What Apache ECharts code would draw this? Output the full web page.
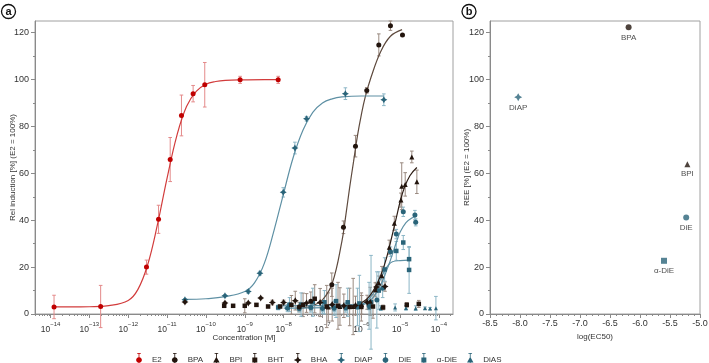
<!DOCTYPE html>
<html><head><meta charset="utf-8">
<script src="https://cdn.jsdelivr.net/npm/echarts@6/dist/echarts.min.js"></script>
<style>html,body{margin:0;padding:0;background:#fff}#c{width:709px;height:363px}</style>
</head><body><div id="c"></div>
<script>
// ---------- Panel a : tick labels ----------
const xTickExps = [-14, -13, -12, -11, -10, -9, -8, -7, -6, -5, -4];
const yTicksA = [0, 20, 40, 60, 80, 100, 120];
const yMinorA = [10, 30, 50, 70, 90, 110];
const bTicksX = [-8.5, -8.0, -7.5, -7.0, -6.5, -6.0, -5.5, -5.0];

// ---------- Panel a : data (x = log10 concentration [M], y = %, e = error) ----------
const names = ['E2', 'BPA', 'BPI', 'BHT', 'BHA', 'DiAP', 'DiE', 'α-DiE', 'DiAS'];

const e2X = [-13.91, -12.71, -11.53, -11.22, -10.92, -10.63, -10.33, -10.03, -9.12, -8.14];
const e2Y = [3.0, 3.2, 20.0, 40.4, 65.9, 84.7, 94.0, 97.8, 99.9, 99.9];
const e2E = [5.0, 9.0, 3.0, 6.0, 9.4, 8.7, 3.5, 9.5, 1.5, 1.5];
const e2CurveX = [-13.91, -13.5, -13.0, -12.5, -12.0, -11.75, -11.5, -11.25, -11.0, -10.75, -10.5, -10.25, -10.0, -9.75, -9.5, -9.0, -8.5, -8.14];
const e2CurveY = [3.0, 3.0, 3.1, 3.6, 5.8, 10.5, 21.0, 38.0, 58.0, 76.0, 88.5, 95.0, 98.0, 99.2, 99.7, 99.9, 100, 100];

const bpaX = [-7.6, -7.30, -6.76, -6.46, -6.15, -5.86, -5.55, -5.25, -4.94];
const bpaY = [3.0, 5.4, 12.5, 37.0, 71.6, 95.4, 114.8, 123.0, 119.0];
const bpaE = [2.0, 4.0, 5.0, 2.7, 4.6, 1.2, 4.7, 2.0, 0];
const bpaCurveX = [-7.6, -7.5, -7.25, -7.0, -6.75, -6.5, -6.4, -6.3, -6.2, -6.1, -6.0, -5.9, -5.75, -5.5, -5.25, -4.95];
const bpaCurveY = [2.4, 2.6, 3.5, 6.0, 13.0, 31.0, 42.0, 54.0, 65.0, 76.0, 85.0, 92.5, 101.0, 112.0, 118.5, 121.3];

const bpiX = [-6.85, -6.55, -6.21, -5.99, -5.77, -5.64, -5.55, -5.47, -5.28, -5.15, -4.98, -4.96, -4.87, -4.70, -4.57];
const bpiY = [3.0, 3.2, 3.2, 3.9, 5.4, 10.3, 13.2, 16.3, 28.5, 38.7, 48.6, 54.5, 55.3, 67.0, 56.4];
const bpiE = [6, 8, 12, 4, 6, 3, 3, 4, 3, 3, 3, 10, 5, 2.5, 5];
const bpiCurveX = [-7.0, -6.5, -6.0, -5.75, -5.5, -5.35, -5.25, -5.1, -5.0, -4.9, -4.75, -4.57];
const bpiCurveY = [2.5, 3.0, 4.8, 8.5, 16.5, 24.0, 30.5, 41.0, 48.0, 53.5, 59.0, 62.5];

const bhtX = [-9.53, -9.30, -9.00, -8.70, -8.40, -8.09, -7.80, -7.50, -7.20, -6.89, -6.60, -6.30, -6.00, -5.70, -5.44, -4.83, -4.52];
const bhtY = [3.5, 3.5, 3.5, 3.9, 3.2, 3.2, 3.9, 3.9, 6.5, 3.2, 3.5, 3.0, 3.0, 3.2, 2.8, 3.9, 4.3];
const bhtE = [0.5, 0.5, 3.0, 0.5, 0.5, 0.5, 4, 5, 6, 9, 10, 8, 6, 5, 1, 1, 1.5];

const bhaX = [-10.54, -9.51, -8.91, -8.59, -8.29, -8.00, -7.70, -7.41, -7.06, -6.75, -6.45, -6.15, -5.85, -5.61, -5.39];
const bhaY = [5.1, 4.7, 4.7, 6.8, 4.9, 4.9, 5.7, 4.7, 4.9, 4.0, 3.5, 3.6, 5.0, 11.5, 11.7];
const bhaE = [0.5, 0.5, 0.5, 0.5, 1, 1, 4, 4, 6, 7, 5, 4, 3, 2, 2];

const diapX = [-10.54, -9.51, -8.91, -8.61, -8.01, -7.71, -7.41, -6.41, -5.42];
const diapY = [6.1, 7.8, 9.6, 17.4, 51.9, 70.8, 83.3, 94.0, 91.4];
const diapE = [0.5, 0.5, 0.8, 0.8, 2.0, 2.5, 1.0, 2.5, 2.5];
const diapCurveX = [-10.54, -10.0, -9.5, -9.0, -8.75, -8.5, -8.25, -8.0, -7.75, -7.5, -7.25, -7.0, -6.75, -6.5, -6.0, -5.42];
const diapCurveY = [6.2, 6.5, 7.4, 9.6, 13.3, 21.5, 35.5, 51.5, 67.0, 78.5, 86.0, 90.0, 91.8, 92.6, 93.0, 93.0];

const dieX = [-7.9, -7.6, -7.3, -7.0, -6.7, -6.4, -6.1, -5.8, -5.6, -5.45, -5.25, -5.10, -4.92, -4.62, -4.60];
const dieY = [2.5, 2.3, 2.8, 2.3, 2.5, 2.8, 3.0, 3.5, 6.0, 11.0, 26.6, 34.1, 43.6, 42.2, 39.1];
const dieE = [1.5, 1.5, 2, 2, 3, 2, 8, 10, 12, 4, 2, 2, 2, 2, 1.5];
const dieCurveX = [-8.0, -7.0, -6.5, -6.0, -5.75, -5.5, -5.35, -5.25, -5.1, -5.0, -4.85, -4.7, -4.6];
const dieCurveY = [2.5, 2.7, 3.0, 3.8, 6.0, 12.5, 18.5, 23.0, 30.5, 35.0, 39.0, 41.0, 41.5];

const adieX = [-8.14, -7.85, -7.55, -7.25, -6.95, -6.65, -6.35, -6.05, -5.75, -5.55, -5.40, -5.10, -4.92, -4.77, -4.77];
const adieY = [2.8, 4.0, 4.0, 5.0, 5.0, 5.5, 5.0, 4.5, 5.0, 10.0, 19.0, 26.9, 30.5, 23.4, 18.8];
const adieE = [1, 3, 5, 6, 5, 7, 6, 12, 20, 8, 5, 4, 3, 5, 10];
const adieCurveX = [-8.1, -7.0, -6.5, -6.0, -5.75, -5.6, -5.5, -5.4, -5.3, -5.2, -5.0, -4.77];
const adieCurveY = [3.5, 3.6, 3.8, 4.2, 7.5, 11.5, 15.0, 18.5, 21.0, 22.3, 22.8, 23.0];

const diasX = [-7.6, -7.3, -7.0, -6.7, -6.4, -6.1, -5.8, -5.5, -5.13, -4.85, -4.6, -4.36, -4.23, -4.08];
const diasY = [2.5, 2.8, 3.0, 2.5, 2.5, 3.0, 2.8, 2.5, 2.8, 2.6, 2.5, 2.5, 2.3, 2.5];
const diasE = [1, 1, 2, 1.5, 1, 1, 1, 1, 1.5, 1, 1, 0.5, 0.5, 5];

// ---------- Panel b : log(EC50) vs REE ----------
const bNames = ['BPA', 'DiAP', 'BPI', 'DiE', 'α-DiE'];
const bX = [-6.19, -8.03, -5.21, -5.23, -5.60];
const bY = [122.3, 92.5, 63.9, 41.2, 22.7];

// ---------- styles ----------
const FONT = '"Liberation Sans", Arial, sans-serif';
const RED = '#c00000', RED_L = '#d23c3c', RED_E = '#e48a8a';
const DK = '#22140d', DK_E = '#9a8a80';
const TEAL = '#2a6479', TEAL_L = '#5e90a4', TEAL_E = '#8cb6c6';
const STAR = 'path://M5,0 L6.8,3.2 L10,5 L6.8,6.8 L5,10 L3.2,6.8 L0,5 L3.2,3.2 Z';

const spec = {
  'E2':   {x: e2X, y: e2Y, e: e2E, cx: e2CurveX, cy: e2CurveY, sym: 'circle', size: 5, c: RED, lc: RED_L, ec: RED_E},
  'BPA':  {x: bpaX, y: bpaY, e: bpaE, cx: bpaCurveX, cy: bpaCurveY, sym: 'circle', size: 5, c: DK, lc: '#5e4a3e', ec: DK_E},
  'BPI':  {x: bpiX, y: bpiY, e: bpiE, cx: bpiCurveX, cy: bpiCurveY, sym: 'triangle', size: 5, c: DK, lc: '#2e1e16', ec: DK_E},
  'BHT':  {x: bhtX, y: bhtY, e: bhtE, sym: 'rect', size: 4.5, c: DK, ec: DK_E},
  'BHA':  {x: bhaX, y: bhaY, e: bhaE, sym: STAR, size: 7, c: DK, ec: DK_E},
  'DiAP': {x: diapX, y: diapY, e: diapE, cx: diapCurveX, cy: diapCurveY, sym: STAR, size: 7, c: TEAL, lc: TEAL_L, ec: TEAL_E},
  'DiE':  {x: dieX, y: dieY, e: dieE, cx: dieCurveX, cy: dieCurveY, sym: 'circle', size: 5, c: TEAL, lc: TEAL_L, ec: TEAL_E},
  'α-DiE':{x: adieX, y: adieY, e: adieE, cx: adieCurveX, cy: adieCurveY, sym: 'rect', size: 4.5, c: TEAL, lc: TEAL_L, ec: TEAL_E},
  'DiAS': {x: diasX, y: diasY, e: diasE, sym: 'triangle', size: 4, c: TEAL, ec: TEAL_E}
};

function zip(a, b) { return a.map((v, i) => [v, b[i]]); }

function errRender(color) {
  return function (params, api) {
    const x = api.value(0), lo = api.value(1), hi = api.value(2);
    const p1 = api.coord([x, hi]), p2 = api.coord([x, lo]);
    const w = 1.8, st = {stroke: color, lineWidth: 1};
    return {type: 'group', children: [
      {type: 'line', shape: {x1: p1[0], y1: p1[1], x2: p2[0], y2: p2[1]}, style: st},
      {type: 'line', shape: {x1: p1[0] - w, y1: p1[1], x2: p1[0] + w, y2: p1[1]}, style: st},
      {type: 'line', shape: {x1: p2[0] - w, y1: p2[1], x2: p2[0] + w, y2: p2[1]}, style: st}
    ]};
  };
}

const series = [];
names.forEach(n => {
  const s = spec[n];
  const d = [];
  s.x.forEach((x, i) => { if (s.e[i] > 0) d.push([x, s.y[i] - s.e[i], s.y[i] + s.e[i]]); });
  series.push({type: 'custom', name: n + ' err', xAxisIndex: 0, yAxisIndex: 0, renderItem: errRender(s.ec),
    data: d, encode: {x: 0, y: [1, 2]}, silent: true, z: 2});
});
names.forEach(n => {
  const s = spec[n];
  if (!s.cx) return;
  series.push({type: 'line', name: n + ' fit', xAxisIndex: 0, yAxisIndex: 0, data: zip(s.cx, s.cy),
    smooth: 0.4, showSymbol: false, symbol: 'none', lineStyle: {color: s.lc, width: 1.2}, silent: true, z: 3});
});
names.slice().reverse().forEach(n => {
  const s = spec[n];
  series.push({type: 'scatter', name: n, xAxisIndex: 0, yAxisIndex: 0, data: zip(s.x, s.y),
    symbol: s.sym, symbolSize: s.size, itemStyle: {color: s.c, opacity: 1}, z: 5});
});
const bSym = {'BPA': 'circle', 'DiAP': STAR, 'BPI': 'triangle', 'DiE': 'circle', 'α-DiE': 'rect'};
const bCol = {'BPA': DK, 'DiAP': TEAL, 'BPI': DK, 'DiE': TEAL, 'α-DiE': TEAL};
const bSize = {'BPA': 6, 'DiAP': 8, 'BPI': 6, 'DiE': 6, 'α-DiE': 6};
series.push({type: 'scatter', name: 'REE', xAxisIndex: 2, yAxisIndex: 2,
  data: bNames.map((n, i) => ({name: n, value: [bX[i], bY[i]], symbol: bSym[n], symbolSize: bSize[n], itemStyle: {color: bCol[n]}})),
  label: {show: true, position: 'bottom', distance: 3, formatter: p => p.name, fontSize: 8, color: '#222', fontFamily: FONT},
  z: 5});

function icon(shape) {
  const bar = 'M3.6,0 L4.4,0 L4.4,14 L3.6,14 Z M2.2,0 L5.8,0 L5.8,0.8 L2.2,0.8 Z M2.2,13.2 L5.8,13.2 L5.8,14 L2.2,14 Z ';
  const m = {
    circle: 'M7,7 L6.1,9.1 L4,10 L1.9,9.1 L1,7 L1.9,4.9 L4,4 L6.1,4.9 Z',
    triangle: 'M4,3.8 L7.2,9.6 L0.8,9.6 Z',
    rect: 'M1.5,4.5 L6.5,4.5 L6.5,9.5 L1.5,9.5 Z',
    star: 'M4,3 L5.3,5.7 L8,7 L5.3,8.3 L4,11 L2.7,8.3 L0,7 L2.7,5.7 Z'
  };
  return 'path://' + bar + m[shape];
}
const legIcon = {'E2': 'circle', 'BPA': 'circle', 'BPI': 'triangle', 'BHT': 'rect', 'BHA': 'star', 'DiAP': 'star', 'DiE': 'circle', 'α-DiE': 'rect', 'DiAS': 'triangle'};

const minorX = [];
for (let d = -15; d <= -4; d++) for (let k = 2; k <= 9; k++) {
  const v = d + Math.log10(k);
  if (v > -14.40 && v < -3.64) minorX.push(v);
}
const minorBX = [];
for (let i = 0; i <= 35; i++) { if (i % 5) minorBX.push(-8.5 + i * 0.1); }

const axisCol = '#8a8a8a';
const tickStyle = {fontSize: 9, color: '#333', fontFamily: FONT};
const nameStyle = {fontSize: 8, color: '#333', fontFamily: FONT};

const option = {
  animation: false,
  textStyle: {fontFamily: FONT},
  grid: [
    {left: 35, top: 21, width: 418, height: 293, show: true, borderColor: '#a0a0a0', borderWidth: 1, containLabel: false, outerBoundsMode: 'none'},
    {left: 490, top: 21, width: 210, height: 293, show: true, borderColor: '#a0a0a0', borderWidth: 1, containLabel: false, outerBoundsMode: 'none'}
  ],
  xAxis: [
    {type: 'value', gridIndex: 0, min: -14.40, max: -3.64, position: 'bottom',
     axisLine: {show: true, lineStyle: {color: axisCol}},
     axisTick: {show: true, length: 4, customValues: xTickExps, lineStyle: {color: axisCol}},
     axisLabel: {customValues: xTickExps, margin: 7, formatter: v => '{b|10}{s|−' + (-v) + '}',
       rich: {b: {fontSize: 8.5, color: '#333', fontFamily: FONT, verticalAlign: 'bottom', lineHeight: 13},
              s: {fontSize: 6, color: '#333', fontFamily: FONT, verticalAlign: 'top', lineHeight: 13, padding: [0, 0, 5, 0]}}},
     splitLine: {show: false},
     name: 'Concentration [M]', nameLocation: 'middle', nameGap: 20, nameMoveOverlap: false, nameTextStyle: nameStyle},
    {type: 'value', gridIndex: 0, min: -14.40, max: -3.64, position: 'bottom',
     axisLine: {show: false}, axisLabel: {show: false}, splitLine: {show: false},
     axisTick: {show: true, length: 2, customValues: minorX, lineStyle: {color: axisCol}}},
    {type: 'value', gridIndex: 1, min: -8.5, max: -5.0, interval: 0.5, position: 'bottom',
     axisLine: {show: true, lineStyle: {color: axisCol}},
     axisTick: {show: true, length: 4, lineStyle: {color: axisCol}},
     axisLabel: Object.assign({customValues: bTicksX, margin: 5, formatter: v => v.toFixed(1)}, tickStyle),
     splitLine: {show: false},
     name: 'log(EC50)', nameLocation: 'middle', nameGap: 13, nameTextStyle: nameStyle},
    {type: 'value', gridIndex: 1, min: -8.5, max: -5.0, position: 'bottom',
     axisLine: {show: false}, axisLabel: {show: false}, splitLine: {show: false},
     axisTick: {show: true, length: 2, customValues: minorBX, lineStyle: {color: axisCol}}}
  ],
  yAxis: [
    {type: 'value', gridIndex: 0, min: 0, max: 125, position: 'left',
     axisLine: {show: true, lineStyle: {color: axisCol}},
     axisTick: {show: true, length: 4, customValues: yTicksA, lineStyle: {color: axisCol}},
     axisLabel: Object.assign({customValues: yTicksA, margin: 6}, tickStyle),
     splitLine: {show: false},
     name: 'Rel induction [%] (E2 = 100%)', nameLocation: 'middle', nameGap: 18, nameMoveOverlap: false, nameTextStyle: nameStyle},
    {type: 'value', gridIndex: 0, min: 0, max: 125, position: 'left',
     axisLine: {show: false}, axisLabel: {show: false}, splitLine: {show: false},
     axisTick: {show: true, length: 2, customValues: yMinorA, lineStyle: {color: axisCol}}},
    {type: 'value', gridIndex: 1, min: 0, max: 125, position: 'left',
     axisLine: {show: true, lineStyle: {color: axisCol}},
     axisTick: {show: true, length: 4, customValues: yTicksA, lineStyle: {color: axisCol}},
     axisLabel: Object.assign({customValues: yTicksA, margin: 6}, tickStyle),
     splitLine: {show: false},
     name: 'REE [%] (E2 = 100%)', nameLocation: 'middle', nameGap: 19, nameMoveOverlap: false, nameTextStyle: nameStyle},
    {type: 'value', gridIndex: 1, min: 0, max: 125, position: 'left',
     axisLine: {show: false}, axisLabel: {show: false}, splitLine: {show: false},
     axisTick: {show: true, length: 2, customValues: yMinorA, lineStyle: {color: axisCol}}}
  ],
  legend: {
    left: 131, top: 348, itemWidth: 8, itemHeight: 14, itemGap: 10,
    textStyle: {fontSize: 8, color: '#333', fontFamily: FONT, width: 24, padding: [0, 0, 0, 4]},
    data: names.map(n => ({name: n, icon: icon(legIcon[n]), itemStyle: {color: spec[n].c}}))
  },
  graphic: [
    {type: 'circle', shape: {cx: 8.5, cy: 11.5, r: 7}, style: {fill: '#fff', stroke: '#111', lineWidth: 1.3}},
    {type: 'text', x: 8.5, y: 11.5, style: {text: 'a', font: 'bold 11px ' + FONT, fill: '#111', align: 'center', verticalAlign: 'middle'}},
    {type: 'circle', shape: {cx: 469, cy: 11.5, r: 7}, style: {fill: '#fff', stroke: '#111', lineWidth: 1.3}},
    {type: 'text', x: 469, y: 11.5, style: {text: 'b', font: 'bold 11px ' + FONT, fill: '#111', align: 'center', verticalAlign: 'middle'}}
  ],
  series: series
};

const chart = echarts.init(document.getElementById('c'), null, {renderer: 'canvas'});
chart.setOption(option);
</script></body></html>
